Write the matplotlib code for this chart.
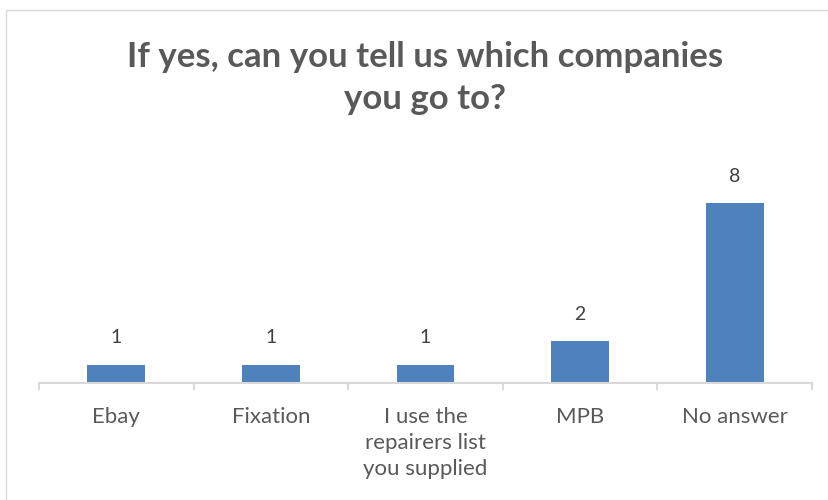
import matplotlib
matplotlib.use("Agg")
import matplotlib.pyplot as plt
from matplotlib.patches import Rectangle

# data
categories = ["Ebay", "Fixation", "I use the\nrepairers list\nyou supplied", "MPB", "No answer"]
counts = [1, 1, 1, 2, 8]
title = "If yes, can you tell us which companies\nyou go to?"

bar_color = "#4F81BD"
text_color = "#595959"
grid_color = "#D9D9D9"

plt.rcParams["font.family"] = ["Lato", "DejaVu Sans"]

fig = plt.figure(figsize=(8.29, 5), dpi=100)

# outer chart border (runs off the right and bottom edges)
fig.patches.append(Rectangle((6 / 829, -0.1), 1.0, (500 - 10) / 500 + 0.1,
                             transform=fig.transFigure, fill=False,
                             edgecolor=grid_color, linewidth=1.0))

ax = fig.add_axes([39 / 829, (500 - 383) / 500, (812 - 39) / 829, (383 - 180) / 500])

x = list(range(len(categories)))
bars = ax.bar(x, counts, width=0.375, color=bar_color, bottom=0)

ax.set_xlim(-0.5, len(categories) - 0.5)
ax.set_ylim(0.2, 9)

# value labels
for xi, v in zip(x, counts):
    ax.annotate(str(v), (xi, v), xytext=(0, 13), textcoords="offset points",
                ha="center", va="bottom", fontsize=14, color="#404040")

for side in ["top", "right", "left"]:
    ax.spines[side].set_visible(False)
ax.spines["bottom"].set_color(grid_color)
ax.spines["bottom"].set_linewidth(1.5)

ax.set_yticks([])
ax.set_xticks(x)
ax.set_xticklabels(categories, fontsize=16, color=text_color, linespacing=1.38, va="top")
ax.tick_params(axis="x", which="major", length=0, pad=17)
ax.set_xticks([i - 0.5 for i in range(len(categories) + 1)], minor=True)
ax.tick_params(axis="x", which="minor", length=5, width=1.5, color=grid_color)

fig.text(425 / 829, 1 - 78 / 500, title, ha="center", va="center",
         fontsize=25, fontweight="bold", color=text_color, linespacing=1.42)

fig.savefig("out.png", dpi=100)
